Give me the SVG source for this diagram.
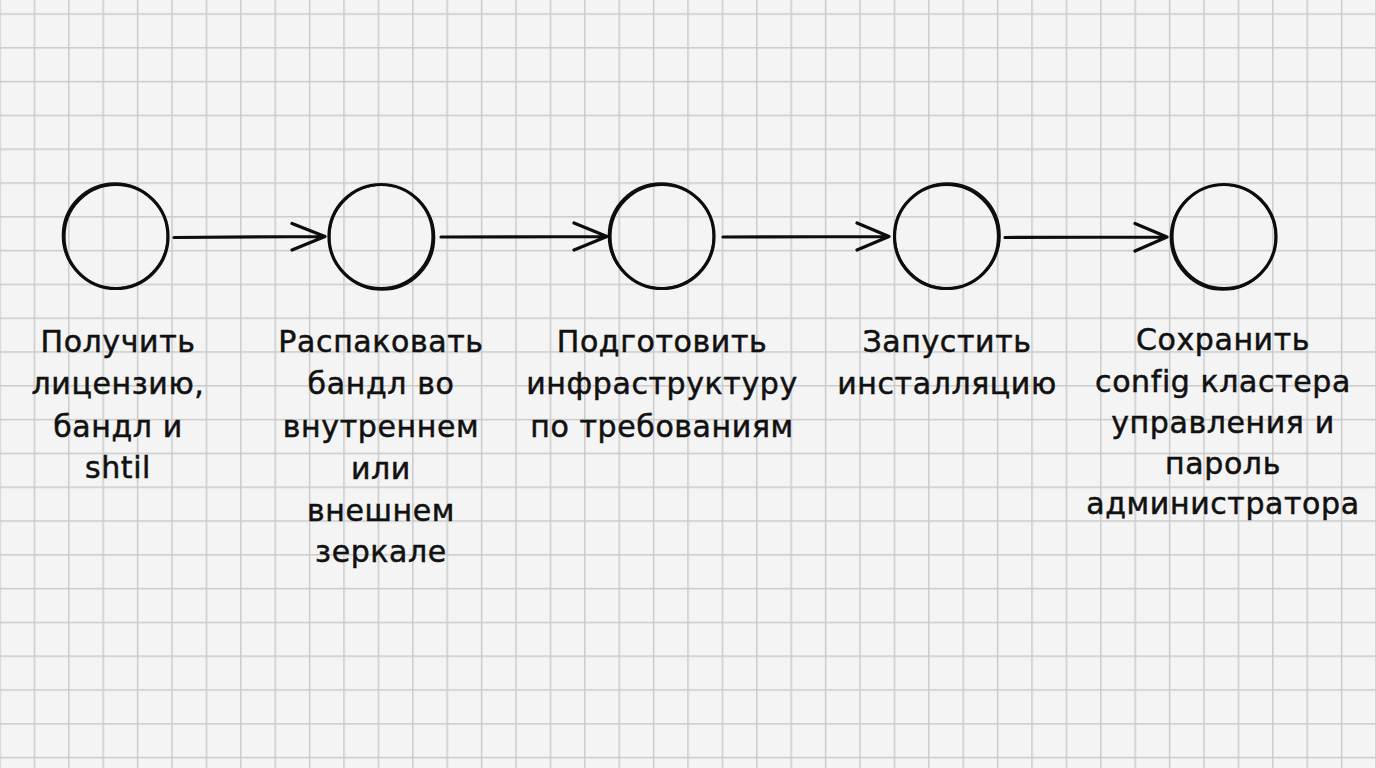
<svg xmlns="http://www.w3.org/2000/svg" width="1376" height="768" viewBox="0 0 1376 768">
<defs>
<pattern id="grid" patternUnits="userSpaceOnUse" x="-0.75" y="13.25" width="34.4" height="33.8">
<rect width="34.4" height="33.8" fill="#f4f4f4"/>
<rect width="1.5" height="33.8" fill="#cbcbcb"/>
<rect width="34.4" height="1.5" fill="#cbcbcb"/>
</pattern>
<style>
.c{fill:none;stroke:#0d0d0d;stroke-width:3.2;stroke-linecap:round}
.c2{fill:none;stroke:#0d0d0d;stroke-width:1.6}
.e{fill:none;stroke:#0d0d0d;stroke-width:3.2;stroke-linecap:round;stroke-linejoin:round}
.t{font-family:"DejaVu Sans","Noto Sans",sans-serif;font-size:30px;letter-spacing:0.6px;fill:#111;stroke:#111;stroke-width:0.5;text-anchor:middle}
</style>
</defs>
<rect width="1376" height="768" fill="url(#grid)"/>
<g id="connectors">
<path class="e" d="M174 237.5L325 236.5M292 223.5L325 236.5L292 250"/>
<path class="e" d="M441 237L607 236.5M574 223L607 236.5L574 250"/>
<path class="e" d="M723 237L889 236.5M857 223L889 236.5L857 250"/>
<path class="e" d="M1005 237.5L1167 237M1135 223.5L1167 237L1135 251"/>
</g>
<g id="n1">
<circle class="c" cx="116" cy="236.5" r="52"/>
<circle class="c2" cx="115" cy="235.5" r="52.5"/>
<text class="t"><tspan x="118" y="352">Получить</tspan><tspan x="118" y="394">лицензию,</tspan><tspan x="118" y="437">бандл и</tspan><tspan x="118" y="478">shtil</tspan></text>
</g>
<g id="n2">
<circle class="c" cx="381" cy="236.5" r="52"/>
<circle class="c2" cx="382" cy="237.5" r="52.5"/>
<text class="t"><tspan x="381" y="352">Распаковать</tspan><tspan x="381" y="394">бандл во</tspan><tspan x="381" y="437">внутреннем</tspan><tspan x="381" y="479">или</tspan><tspan x="381" y="521">внешнем</tspan><tspan x="381" y="562">зеркале</tspan></text>
</g>
<g id="n3">
<circle class="c" cx="662" cy="236.5" r="52"/>
<circle class="c2" cx="661" cy="235.5" r="52.5"/>
<text class="t"><tspan x="662" y="352">Подготовить</tspan><tspan x="662" y="394">инфраструктуру</tspan><tspan x="662" y="437">по требованиям</tspan></text>
</g>
<g id="n4">
<circle class="c" cx="946.5" cy="236.5" r="52"/>
<circle class="c2" cx="947.5" cy="235.5" r="52.5"/>
<text class="t"><tspan x="947" y="352">Запустить</tspan><tspan x="947" y="394">инсталляцию</tspan></text>
</g>
<g id="n5">
<circle class="c" cx="1224" cy="236.5" r="52"/>
<circle class="c2" cx="1223" cy="237.5" r="52.5"/>
<text class="t"><tspan x="1223" y="350">Сохранить</tspan><tspan x="1223" y="392">config кластера</tspan><tspan x="1223" y="433">управления и</tspan><tspan x="1223" y="474">пароль</tspan><tspan x="1223" y="514">администратора</tspan></text>
</g>
</svg>
